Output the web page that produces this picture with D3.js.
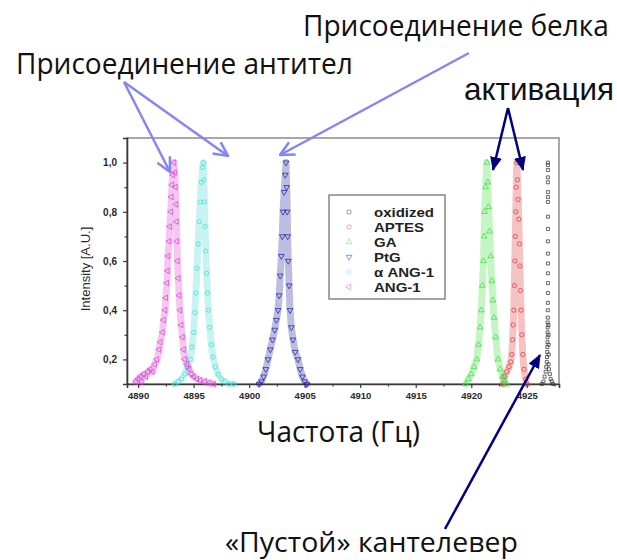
<!DOCTYPE html>
<html>
<head>
<meta charset="utf-8">
<script src="https://cdn.jsdelivr.net/npm/d3@7"></script>
<style>
  body { margin: 0; background: #fff; }
  svg { display: block; }
</style>
</head>
<body>
<div id="chart"></div>
<script>
"use strict";

// tick values
const xTicks = [4890, 4895, 4900, 4905, 4910, 4915, 4920, 4925]
    , xMinorTicks = [4892.5, 4897.5, 4902.5, 4907.5, 4912.5, 4917.5, 4922.5, 4927.5]
    , yTicks = [0.2, 0.4, 0.6, 0.8, 1.0]
    , yMinorTicks = [0.3, 0.5, 0.7, 0.9]

// legend order
const seriesNames = ['oxidized', 'APTES', 'GA', 'PtG', 'α ANG-1', 'ANG-1']

// [frequency, intensity]
const oxidized = [
  [4926.35, 0.10], [4926.5, 0.11], [4926.6, 0.13], [4926.7, 0.15], [4926.75, 0.17],
  [4926.8, 0.19], [4926.82, 0.21], [4926.84, 0.23], [4926.85, 0.25], [4926.86, 0.27],
  [4926.87, 0.29], [4926.87, 0.31], [4926.88, 0.33], [4926.88, 0.35], [4926.89, 0.37],
  [4926.89, 0.40], [4926.89, 0.43], [4926.9, 0.47], [4926.9, 0.51], [4926.9, 0.55],
  [4926.9, 0.59], [4926.9, 0.63], [4926.9, 0.68], [4926.9, 0.73], [4926.9, 0.78],
  [4926.9, 0.84], [4926.9, 0.86], [4926.9, 0.88], [4926.9, 0.92], [4926.9, 0.94],
  [4926.9, 0.97], [4926.9, 0.99], [4926.9, 1.0],
  [4926.96, 0.18], [4926.97, 0.22], [4926.97, 0.26], [4926.96, 0.30], [4926.95, 0.34],
  [4927.0, 0.16], [4927.08, 0.14], [4927.15, 0.12], [4927.25, 0.11], [4927.35, 0.10]
]

const aptes = [
  [4922.85, 0.10], [4923.0, 0.13], [4923.2, 0.15], [4923.4, 0.17], [4923.55, 0.19],
  [4923.65, 0.22], [4923.72, 0.28], [4923.78, 0.34], [4923.83, 0.40], [4923.88, 0.50],
  [4923.92, 0.60], [4923.97, 0.70], [4924.01, 0.80], [4924.05, 0.90], [4924.1, 1.0],
  [4924.16, 0.93], [4924.22, 0.85], [4924.28, 0.77], [4924.33, 0.67], [4924.38, 0.58],
  [4924.43, 0.48], [4924.48, 0.40], [4924.55, 0.30], [4924.64, 0.22], [4924.75, 0.16],
  [4924.9, 0.12], [4925.0, 0.10]
]

const ga = [
  [4919.5, 0.10], [4919.75, 0.12], [4920.0, 0.14], [4920.25, 0.17], [4920.5, 0.20],
  [4920.65, 0.26], [4920.8, 0.33], [4920.9, 0.40], [4921.0, 0.50], [4921.1, 0.60],
  [4921.15, 0.70], [4921.2, 0.80], [4921.3, 0.90], [4921.4, 1.0], [4921.48, 0.92],
  [4921.55, 0.82], [4921.65, 0.72], [4921.75, 0.62], [4921.85, 0.52], [4921.95, 0.44],
  [4922.05, 0.37], [4922.2, 0.29], [4922.4, 0.20], [4922.6, 0.16], [4922.8, 0.13],
  [4923.0, 0.11], [4923.15, 0.10]
]

const ptg = [
  [4900.9, 0.10], [4901.1, 0.11], [4901.3, 0.13], [4901.5, 0.16], [4901.7, 0.20],
  [4901.9, 0.24], [4902.1, 0.28], [4902.3, 0.32], [4902.45, 0.36], [4902.6, 0.40],
  [4902.7, 0.46], [4902.8, 0.54], [4902.9, 0.62], [4902.98, 0.70], [4903.05, 0.80],
  [4903.15, 0.88], [4903.25, 0.95], [4903.32, 1.0], [4903.38, 0.90], [4903.43, 0.80],
  [4903.47, 0.70], [4903.52, 0.60], [4903.6, 0.50], [4903.68, 0.40], [4903.8, 0.33],
  [4903.95, 0.28], [4904.15, 0.23], [4904.4, 0.20], [4904.6, 0.16], [4904.8, 0.13],
  [4905.0, 0.11], [4905.2, 0.10]
]

const alphaAng1 = [
  [4893.3, 0.10], [4893.6, 0.11], [4893.9, 0.12], [4894.2, 0.14], [4894.45, 0.17],
  [4894.7, 0.20], [4894.85, 0.25], [4895.0, 0.31], [4895.1, 0.39], [4895.2, 0.47],
  [4895.3, 0.57], [4895.4, 0.67], [4895.5, 0.76], [4895.6, 0.84], [4895.7, 0.92],
  [4895.8, 0.98], [4895.88, 1.0], [4895.92, 0.93], [4895.97, 0.84], [4896.03, 0.74],
  [4896.1, 0.64], [4896.17, 0.55], [4896.25, 0.47], [4896.33, 0.40], [4896.45, 0.33],
  [4896.6, 0.26], [4896.75, 0.21], [4896.95, 0.17], [4897.2, 0.14], [4897.5, 0.12],
  [4897.8, 0.11], [4898.2, 0.10], [4898.6, 0.10]
]

const ang1 = [
  [4889.8, 0.11], [4890.0, 0.12], [4890.2, 0.13], [4890.3, 0.11], [4890.5, 0.14],
  [4890.7, 0.13], [4890.9, 0.15], [4891.1, 0.16], [4891.3, 0.15], [4891.5, 0.18],
  [4891.7, 0.20], [4891.9, 0.24], [4892.0, 0.27], [4892.2, 0.31], [4892.3, 0.36],
  [4892.43, 0.40], [4892.5, 0.45], [4892.6, 0.51], [4892.65, 0.56], [4892.7, 0.62],
  [4892.8, 0.68], [4892.85, 0.74], [4892.95, 0.80], [4893.0, 0.86], [4893.05, 0.91],
  [4893.12, 0.95], [4893.24, 1.0], [4893.3, 0.96], [4893.36, 0.90], [4893.42, 0.83],
  [4893.46, 0.76], [4893.5, 0.68], [4893.55, 0.60], [4893.62, 0.53], [4893.7, 0.46],
  [4893.78, 0.40], [4893.88, 0.34], [4894.0, 0.29], [4894.1, 0.24], [4894.2, 0.20],
  [4894.4, 0.18], [4894.6, 0.16], [4894.8, 0.14], [4895.0, 0.13], [4895.3, 0.12],
  [4895.6, 0.115], [4896.0, 0.11], [4896.4, 0.105], [4896.8, 0.10]
]

const seriesData = [oxidized, aptes, ga, ptg, alphaAng1, ang1]
const seriesColors = ['#3a3a3a', '#e0383c', '#3ede3e', '#23239c', '#46dcd2', '#dc46d2']

const width = 617
    , height = 560

const svg = d3.select('#chart').append('svg')
    .attr('width', width)
    .attr('height', height)

svg.append('rect')
  .attr('width', width)
  .attr('height', height)
  .attr('fill', '#fff')

/*
 * Scales and axes
 ***/
const xScale = d3.scaleLinear()
  .domain([4889, 4927.9])
  .range([127, 559])

const yScale = d3.scaleLinear()
  .domain([0.1, 1.1])
  .range([384, 138])

const ruFormat = d3.formatLocale({ decimal: ',', thousands: ' ', grouping: [3], currency: ['', ''] })

svg.append('rect')
  .attr('x', xScale.range()[0])
  .attr('y', yScale.range()[1])
  .attr('width', xScale.range()[1] - xScale.range()[0])
  .attr('height', yScale.range()[0] - yScale.range()[1])
  .attr('fill', 'none')
  .attr('stroke', '#8a8a8a')
  .attr('stroke-width', 1.5)

svg.append('g')
  .attr('transform', `translate(0,${yScale.range()[0]})`)
  .call(d3.axisBottom(xScale).tickValues(xTicks).tickSize(4).tickPadding(4).tickFormat(d3.format('d')))

svg.append('g')
  .attr('transform', `translate(0,${yScale.range()[0]})`)
  .call(d3.axisBottom(xScale).tickValues(xMinorTicks).tickSize(2.5).tickFormat(''))
  .call(g => g.select('.domain').remove())

const yAxisG = svg.append('g')
  .attr('transform', `translate(${xScale.range()[0]},0)`)
  .call(d3.axisLeft(yScale).tickValues(yTicks).tickSize(4).tickPadding(6).tickFormat(ruFormat.format('.1f')))

svg.append('g')
  .attr('transform', `translate(${xScale.range()[0]},0)`)
  .call(d3.axisLeft(yScale).tickValues(yMinorTicks).tickSize(2.5).tickFormat(''))
  .call(g => g.select('.domain').remove())

svg.selectAll('.domain')
  .attr('stroke', '#3a3a3a')
  .attr('stroke-width', 1.6)

svg.selectAll('.tick line')
  .attr('stroke', '#3a3a3a')
  .attr('stroke-width', 1.2)

svg.selectAll('.tick text')
  .attr('fill', '#2a2a2a')
  .style('font-family', '"Liberation Sans", Arial, sans-serif')
  .style('font-weight', 'bold')
  .style('font-size', '9.5px')

yAxisG.selectAll('.tick text').style('font-size', '10px')

svg.append('text')
  .attr('transform', `translate(89.5,${(yScale.range()[0] + yScale.range()[1]) / 2 + 8}) rotate(-90)`)
  .attr('text-anchor', 'middle')
  .attr('fill', '#2a2a2a')
  .style('font-family', '"Liberation Sans", Arial, sans-serif')
  .style('font-size', '13px')
  .text('Intensity [A.U.]')

/*
 * Peaks: dense sweeps drawn as a soft band plus the hollow markers
 ***/
const symbols = [
  { type: d3.symbolSquare, rotate: 0 },
  { type: d3.symbolCircle, rotate: 0 },
  { type: d3.symbolTriangle, rotate: 0 },
  { type: d3.symbolTriangle, rotate: 180 },
  { type: d3.symbolCircle, rotate: 0 },
  { type: d3.symbolTriangle, rotate: -90 }
]

const line = d3.line()
  .x(d => xScale(d[0]))
  .y(d => yScale(d[1]))

const plot = svg.append('g')

seriesData.forEach((points, i) => {
  const color = seriesColors[i]

  if (i > 0) {
    plot.append('path')
      .datum(points)
      .attr('d', line)
      .attr('fill', 'none')
      .attr('stroke', color)
      .attr('stroke-width', 7)
      .attr('stroke-linejoin', 'round')
      .attr('stroke-linecap', 'round')
      .attr('opacity', 0.3)
  }

  plot.selectAll(null)
    .data(points)
    .enter()
    .append('path')
    .attr('d', d3.symbol().type(symbols[i].type).size(i === 0 ? 9 : 14))
    .attr('transform', d => `translate(${xScale(d[0])},${yScale(d[1])}) rotate(${symbols[i].rotate})`)
    .attr('fill', 'none')
    .attr('stroke', color)
    .attr('stroke-width', 0.9)
    .attr('opacity', 0.85)
})

/*
 * Legend
 ***/
const legend = svg.append('g')

legend.append('rect')
  .attr('x', 329)
  .attr('y', 195)
  .attr('width', 116)
  .attr('height', 104)
  .attr('fill', '#fff')
  .attr('stroke', '#6a6a6a')
  .attr('stroke-width', 1.2)

const legendRows = legend.selectAll('g.row')
  .data(seriesNames)
  .enter()
  .append('g')
  .attr('class', 'row')
  .attr('transform', (d, i) => `translate(349,${212 + i * 15})`)

legendRows.append('path')
  .attr('d', (d, i) => d3.symbol().type(symbols[i].type).size(14)())
  .attr('transform', (d, i) => `rotate(${symbols[i].rotate})`)
  .attr('fill', 'none')
  .attr('stroke', (d, i) => seriesColors[i])
  .attr('stroke-width', 0.9)
  .attr('opacity', 0.5)

legendRows.append('text')
  .attr('transform', 'translate(25,4.5) scale(1.25,1)')
  .attr('fill', '#222')
  .style('font-family', '"Liberation Sans", Arial, sans-serif')
  .style('font-weight', 'bold')
  .style('font-size', '12px')
  .text(d => d)

/*
 * Annotations
 ***/
const defs = svg.append('defs')

defs.append('marker')
  .attr('id', 'open-head')
  .attr('viewBox', '0 0 16 16')
  .attr('refX', 15)
  .attr('refY', 8)
  .attr('markerWidth', 16)
  .attr('markerHeight', 16)
  .attr('markerUnits', 'userSpaceOnUse')
  .attr('orient', 'auto')
  .append('path')
  .attr('d', 'M1,1 L15,8 L1,15')
  .attr('fill', 'none')
  .attr('stroke', '#8585f3')
  .attr('stroke-width', 2.5)

defs.append('marker')
  .attr('id', 'solid-head')
  .attr('viewBox', '0 0 14 12')
  .attr('refX', 13)
  .attr('refY', 6)
  .attr('markerWidth', 14)
  .attr('markerHeight', 12)
  .attr('markerUnits', 'userSpaceOnUse')
  .attr('orient', 'auto')
  .append('path')
  .attr('d', 'M0,0 L14,6 L0,12 Z')
  .attr('fill', '#00007f')

const arrows = [
  { from: [124, 82], to: [170, 172], head: 'open-head', color: '#8585f3' },
  { from: [124, 82], to: [228, 156], head: 'open-head', color: '#8585f3' },
  { from: [469, 53], to: [280, 155], head: 'open-head', color: '#8585f3' },
  { from: [508, 108], to: [493, 170], head: 'solid-head', color: '#00007f' },
  { from: [508, 108], to: [523, 170], head: 'solid-head', color: '#00007f' },
  { from: [445, 529], to: [540, 355], head: 'solid-head', color: '#00007f' }
]

svg.append('g').selectAll('line')
  .data(arrows)
  .enter()
  .append('line')
  .attr('x1', d => d.from[0])
  .attr('y1', d => d.from[1])
  .attr('x2', d => d.to[0])
  .attr('y2', d => d.to[1])
  .attr('stroke', d => d.color)
  .attr('stroke-width', 2.5)
  .attr('marker-end', d => `url(#${d.head})`)

const labels = [
  { text: 'Присоединение белка', x: 303, y: 36, len: 306, font: '"Open Sans", sans-serif', size: 29 },
  { text: 'Присоединение антител', x: 16, y: 74, len: 337, font: '"Open Sans", sans-serif', size: 29 },
  { text: 'активация', x: 464, y: 100, len: 150, font: '"Liberation Sans", Arial, sans-serif', size: 32 },
  { text: 'Частота (Гц)', x: 257, y: 442, len: 163, font: '"Open Sans", sans-serif', size: 29 },
  { text: '«Пустой» кантелевер', x: 225, y: 552, len: 293, font: '"Open Sans", sans-serif', size: 28 }
]

// squeeze each label horizontally to the width it has in the picture
svg.append('g').selectAll('text')
  .data(labels)
  .enter()
  .append('text')
  .attr('fill', '#111')
  .style('font-family', d => d.font)
  .style('font-size', d => `${d.size}px`)
  .text(d => d.text)
  .each(function (d) {
    const natural = this.getComputedTextLength()
    d3.select(this).attr('transform', `translate(${d.x},${d.y}) scale(${d.len / natural},1)`)
  })
</script>
</body>
</html>
